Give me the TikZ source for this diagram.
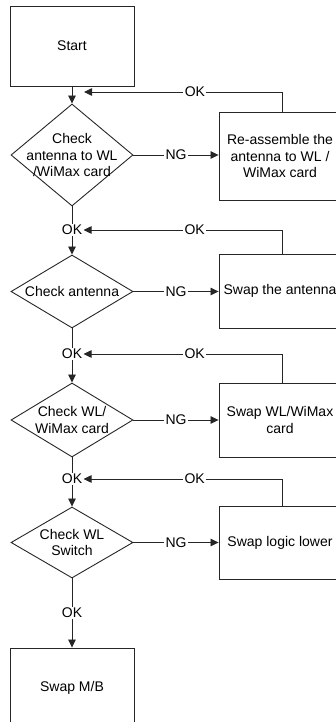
\documentclass[tikz,border=0pt]{standalone}
\usepackage{fontspec}
\setmainfont{Liberation Sans}
\usetikzlibrary{arrows.meta,shapes.geometric}

\begin{document}
\begin{tikzpicture}[
    x=1pt, y=-1pt,
    >={Triangle[length=8pt,width=7.5pt]},
    line width=0.8pt,
    font=\fontsize{14}{16.5}\selectfont,
    procbox/.style={draw=black!85, line width=0.9pt, align=center,
        inner sep=0pt},
    fixbox/.style={procbox, minimum width=122pt},
    decision/.style={diamond, draw=black!85, line width=0.9pt,
        inner sep=0pt, minimum width=122pt},
    dtext/.style={align=center, inner sep=0pt},
    oktxt/.style={inner sep=1pt},
    lbl/.style={fill=white, inner sep=1.5pt},
    flow/.style={draw=black!85},
]

\useasboundingbox (0,0) rectangle (336,722);
\clip (0,0) rectangle (336,722);

% =====================================================
% Main column
% =====================================================
\node[procbox, minimum width=124pt, minimum height=80pt]
    (start) at (72,46) {Start};

\node[decision, minimum height=102pt,
    label={[dtext]center:{Check\\antenna to WL\\/WiMax card}}]
    (chkcable) at (72,155) {};

\node[oktxt] (ok1) at (72,230) {OK};

\node[decision, minimum height=73pt,
    label={[dtext]center:{Check antenna}}]
    (chkant) at (72,291.5) {};

\node[oktxt] (ok2) at (72,354) {OK};

\node[decision, minimum height=74pt,
    label={[dtext]center:{Check WL/\\WiMax card}}]
    (chkcard) at (72,420) {};

\node[oktxt] (ok3) at (72,479) {OK};

\node[decision, minimum height=71pt,
    label={[dtext]center:{Check WL\\Switch}}]
    (chksw) at (72,542.5) {};

\node[procbox, minimum width=124pt, minimum height=80pt]
    (swapmb) at (72,688) {Swap M/B};

% =====================================================
% Repair boxes (right side)
% =====================================================
\node[fixbox, minimum height=88pt] (reasm) at (280,156)
    {Re-assemble the\\antenna to WL /\\WiMax card};
\node[fixbox, minimum height=74pt] (swapant) at (280,291)
    {Swap the antenna};
\node[fixbox, minimum height=74pt] (swapcard) at (280,420)
    {Swap WL/WiMax\\card};
\node[fixbox, minimum height=73pt] (swaplow) at (280,542.5)
    {Swap logic lower};

\coordinate (join1) at (72,92);

% =====================================================
% Arrows down the main column
% =====================================================
\draw[flow, ->] (start.south) -- (chkcable.north);
\draw[flow] (chkcable.south) -- (ok1.north);
\draw[flow, ->] (ok1.south) -- (chkant.north);
\draw[flow] (chkant.south) -- (ok2.north);
\draw[flow, ->] (ok2.south) -- (chkcard.north);
\draw[flow] (chkcard.south) -- (ok3.north);
\draw[flow, ->] (ok3.south) -- (chksw.north);
\draw[flow, ->] (chksw.south) -- (swapmb.north)
    node[midway, lbl] {OK};

% =====================================================
% NG branches
% =====================================================
\draw[flow, ->] (chkcable.east) -- (reasm.west |- chkcable.east)
    node[midway, lbl] {NG};
\draw[flow, ->] (chkant.east) -- (swapant.west |- chkant.east)
    node[midway, lbl] {NG};
\draw[flow, ->] (chkcard.east) -- (swapcard.west |- chkcard.east)
    node[midway, lbl] {NG};
\draw[flow, ->] (chksw.east) -- (swaplow.west |- chksw.east)
    node[midway, lbl] {NG};

% =====================================================
% OK returns
% =====================================================
\draw[flow, ->] ([xshift=2pt]reasm.north) |- ([xshift=12pt]join1)
    node[pos=0.72, lbl] {OK};
\draw[flow, ->] ([xshift=2pt]swapant.north) |- (ok1.east)
    node[pos=0.72, lbl] {OK};
\draw[flow, ->] ([xshift=2pt]swapcard.north) |- (ok2.east)
    node[pos=0.72, lbl] {OK};
\draw[flow, ->] ([xshift=2pt]swaplow.north) |- (ok3.east)
    node[pos=0.72, lbl] {OK};

\end{tikzpicture}
\end{document}
